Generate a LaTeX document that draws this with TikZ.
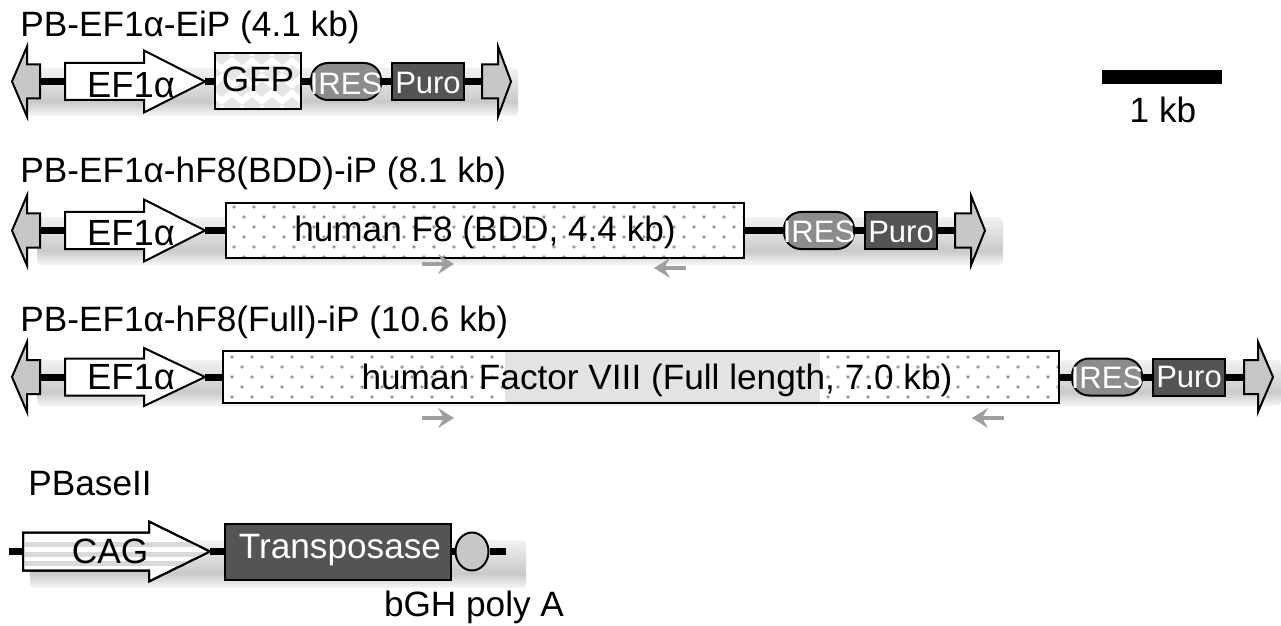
\documentclass[tikz,border=0pt]{standalone}
\usepackage{fontspec}
\setmainfont{Liberation Sans}
\usetikzlibrary{arrows.meta,shapes.geometric}
\pgfdeclarelayer{shadelayer}
\pgfdeclarelayer{backlayer}
\pgfsetlayers{shadelayer,backlayer,main}
\definecolor{darkbox}{gray}{0.33}
\definecolor{iresgray}{gray}{0.55}
\definecolor{tingray}{gray}{0.78}
\pgfdeclareverticalshading{softshadow}{100bp}{%
  color(0bp)=(black!3); color(25bp)=(black!3); color(40bp)=(black!21);
  color(75bp)=(black!5); color(100bp)=(black!5)}
\tikzset{
  x=0.5pt,y=-0.5pt,
  every node/.style={font=\fontsize{17.6}{20}\selectfont,inner sep=0pt,text=black},
  title/.style={anchor=base west},
  eflabel/.style={font=\fontsize{18.2}{20}\selectfont},
  shadow/.style={rounded corners=2pt,shading=softshadow},
  backbone/.style={line width=3.5pt,black},
  outl/.style={draw=black,line width=1pt},
  pointer/.style={outl,fill=tingray,line join=miter},
  promoter/.style={outl,fill=white,line join=miter},
  irespill/.style={outl,fill=iresgray,rounded corners=8.5pt,minimum width=35pt,minimum height=18.5pt},
  whiteires/.style={text=white,font=\fontsize{15.5}{18}\selectfont},
  whitepuro/.style={text=white,font=\fontsize{15.5}{18}\selectfont},
  purobox/.style={outl,fill=darkbox,minimum width=36pt,minimum height=18.5pt},
  primer/.style={draw=gray!75,fill=gray!75,line width=2.4pt,-{Stealth[length=8pt,width=10pt,inset=3pt]}},
}
% right-pointing block arrow: name, x0, xshaftend, xtip, cy, shaft half height, head half height, style
\newcommand{\blockR}[8]{%
  \path[#8] (#2,#5-#6) -- (#3,#5-#6) -- (#3,#5-#7) -- (#4,#5) -- (#3,#5+#7) -- (#3,#5+#6) -- (#2,#5+#6) -- cycle;
  \coordinate (#1w) at (#2,#5);
  \coordinate (#1e) at (#4,#5);}
% left-pointing terminal arrow: suffix, centre y
\newcommand{\termL}[2]{%
  \blockR{tl#1}{40}{27}{12}{#2}{17}{35}{pointer}}
% staggered dots: x0, x1, first y, last y (rows 10 px apart)
\newcommand{\dotrows}[4]{%
  \pgfmathsetmacro{\ysec}{#3+10}
  \foreach \yy [count=\rr] in {#3,\ysec,...,#4}{%
    \pgfmathsetmacro{\st}{#1+8+mod(\rr+1,2)*10}
    \pgfmathsetmacro{\stb}{\st+20}
    \foreach \xx in {\st,\stb,...,#2}{\fill[gray!80] (\xx,\yy) circle (0.95pt);}}}
\begin{document}
\begin{tikzpicture}
\useasboundingbox (0,0) rectangle (1281,626);
\def\cya{81.5}\def\cyb{230.5}\def\cyc{377}

\begin{pgfonlayer}{shadelayer}
  \shade[shadow] (27,68) rectangle (518,116);
  \shade[shadow] (37,217) rectangle (1003,265);
  \shade[shadow] (37,360) rectangle (1281,406);
  \shade[shadow] (30,540) rectangle (526,588);
\end{pgfonlayer}

% ---------- Row 1
\node[title] (t1) at (20,37) {PB-EF1α-EiP (4.1 kb)};
\termL{a}{\cya}
\blockR{pa}{65}{144}{205}{\cya}{18.5}{31}{promoter}
\node[eflabel] (efa) at (131,85) {EF1α};
\node[outl,fill=white,minimum width=43pt,minimum height=28pt] (gfp) at (257.5,\cya) {};
\begin{scope}
  \clip (214.5,53.5) rectangle (300.5,109.5);
  \foreach \yc in {57,73,89,105}{
    \pgfmathsetmacro{\xoff}{mod(\yc-57,32)==0 ? 222 : 232}
    \foreach \dx in {-20,0,20,40,60,80}{
      \fill[gray!20] (\xoff+\dx-10,\yc) -- (\xoff+\dx,\yc-8) -- (\xoff+\dx+10,\yc) -- (\xoff+\dx,\yc+8) -- cycle;}}
\end{scope}
\node[outl,minimum width=43pt,minimum height=28pt] at (257.5,\cya) {};
\node at (258,79) {GFP};
\node[irespill] (irA) at (346,\cya) {};
\node[whiteires] at (346,84) {IRES};
\node[purobox] (puA) at (428,\cya) {};
\node[whitepuro] at (428,83) {Puro};
\blockR{ra}{482}{498}{511}{\cya}{17}{35}{pointer}
\begin{pgfonlayer}{backlayer}
  \draw[backbone] (tlaw) -- (paw);
  \draw[backbone] (pae) -- (gfp.west);
  \draw[backbone] (gfp.east) -- (irA.west);
  \draw[backbone] (irA.east) -- (puA.west);
  \draw[backbone] (puA.east) -- (raw);
\end{pgfonlayer}

% ---------- Row 2
\node[title] (t2) at (20,183) {PB-EF1α-hF8(BDD)-iP (8.1 kb)};
\termL{b}{\cyb}
\blockR{pb}{65}{144}{205}{\cyb}{18.5}{31}{promoter}
\node[eflabel] (efb) at (131,233) {EF1α};
\node[outl,fill=white,minimum width=259pt,minimum height=27.5pt] (f8b) at (485,\cyb) {};
\begin{scope}
  \clip (227,203.5) rectangle (743,257.5);
  \dotrows{226}{744}{207}{257}
\end{scope}
\node[outl,minimum width=259pt,minimum height=27.5pt] at (485,\cyb) {};
\node at (485,232) {human F8 (BDD, 4.4 kb)};
\node[irespill] (irB) at (819,\cyb) {};
\node[whiteires] at (819,232) {IRES};
\node[purobox] (puB) at (901,\cyb) {};
\node[whitepuro] at (901,232) {Puro};
\blockR{rb}{955}{971}{985}{\cyb}{17}{35}{pointer}
\begin{pgfonlayer}{backlayer}
  \draw[backbone] (tlbw) -- (pbw);
  \draw[backbone] (pbe) -- (f8b.west);
  \draw[backbone] (f8b.east) -- (irB.west);
  \draw[backbone] (irB.east) -- (puB.west);
  \draw[backbone] (puB.east) -- (rbw);
\end{pgfonlayer}
\coordinate (p1a) at (422,264); \coordinate (p1b) at (454,264);
\coordinate (p2a) at (686,268); \coordinate (p2b) at (654,268);
\draw[primer] (p1a) -- (p1b);
\draw[primer] (p2a) -- (p2b);

% ---------- Row 3
\node[title] (t3) at (20,331) {PB-EF1α-hF8(Full)-iP (10.6 kb)};
\termL{c}{\cyc}
\blockR{pc}{65}{144}{205}{\cyc}{18.5}{29}{promoter}
\node[eflabel] (efc) at (131,377) {EF1α};
\node[outl,fill=white,minimum width=418pt,minimum height=26pt] (f8c) at (641,\cyc) {};
\fill[gray!22] (505,352) rectangle (820,402);
\begin{scope}
  \clip (224,352) rectangle (505,402);
  \dotrows{224}{505}{357}{397}
\end{scope}
\begin{scope}
  \clip (820,352) rectangle (1058,402);
  \dotrows{820}{1058}{357}{397}
\end{scope}
\node[outl,minimum width=418pt,minimum height=26pt] at (641,\cyc) {};
\node at (657,380) {human Factor VIII (Full length, 7.0 kb)};
\node[irespill] (irC) at (1107,\cyc) {};
\node[whiteires] at (1107,378) {IRES};
\node[purobox] (puC) at (1189,\cyc) {};
\node[whitepuro] at (1189,377) {Puro};
\blockR{rc}{1244}{1258}{1273}{\cyc}{17}{35}{pointer}
\begin{pgfonlayer}{backlayer}
  \draw[backbone] (tlcw) -- (pcw);
  \draw[backbone] (pce) -- (f8c.west);
  \draw[backbone] (f8c.east) -- (irC.west);
  \draw[backbone] (irC.east) -- (puC.west);
  \draw[backbone] (puC.east) -- (rcw);
\end{pgfonlayer}
\coordinate (p3a) at (422,418); \coordinate (p3b) at (454,418);
\coordinate (p4a) at (1004,418); \coordinate (p4b) at (972,418);
\draw[primer] (p3a) -- (p3b);
\draw[primer] (p4a) -- (p4b);

% ---------- Row 4
\node[title] (t4) at (28,495) {PBaseII};
\coordinate (ls) at (9,551.5);
\coordinate (le) at (506,551.5);
\blockR{cag}{23}{149}{210}{551.5}{19}{30}{promoter}
\begin{scope}
  \clip (24,532.5) -- (149,532.5) -- (149,521.5) -- (209,551.5) -- (149,581.5) -- (149,570.5) -- (24,570.5) -- cycle;
  \foreach \ys in {542,552,561}{\fill[gray!30] (24,\ys) rectangle (210,\ys+4.5);}
\end{scope}
\path[outl] (23,532.5) -- (149,532.5) -- (149,521.5) -- (210,551.5) -- (149,581.5) -- (149,570.5) -- (23,570.5) -- cycle;
\node (cagt) at (110,551) {CAG};
\node[outl,fill=darkbox,minimum width=113pt,minimum height=28pt] (tp) at (338,551.5) {};
\node[text=white] at (340,550) {Transposase};
\node[outl,fill=tingray,ellipse,minimum width=16.5pt,minimum height=19pt] (pa) at (472,551.5) {};
\node (bgh) at (474,607) {bGH poly A};
\begin{pgfonlayer}{backlayer}
  \draw[backbone] (ls) -- (cagw);
  \draw[backbone] (cage) -- (tp.west);
  \draw[backbone] (tp.east) -- (pa.west);
  \draw[backbone] (pa.east) -- (le);
\end{pgfonlayer}

% ---------- Scale bar
\node[fill=black,minimum width=60pt,minimum height=7pt] (bar) at (1162,77) {};
\node (kb) at (1163,110) {1 kb};
\end{tikzpicture}
\end{document}
